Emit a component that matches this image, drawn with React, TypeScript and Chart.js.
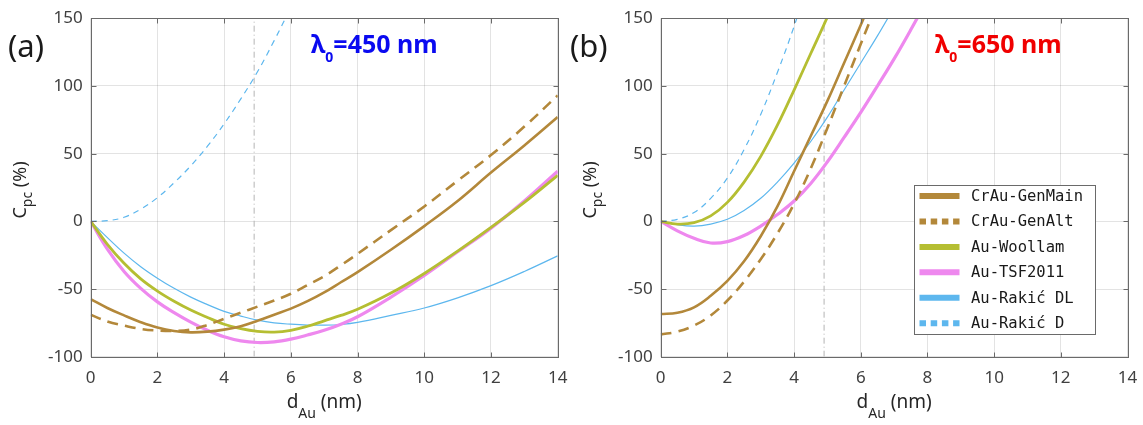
import React, { useEffect, useRef } from "react";
import { Chart, registerables } from "chart.js";
Chart.register(...registerables);

// ---------- data (left panel, λ0 = 450 nm) ----------
const xLeft = [0, 0.5, 1, 1.5, 2, 2.5, 3, 3.5, 4, 4.5, 5, 5.5, 6, 6.5, 7, 7.5, 8, 9, 10, 11, 12, 13, 14];
const genMainLeft = [-57.5, -64, -69.5, -74.5, -78.5, -81, -82, -81.5, -80, -77.5, -73.5, -69, -64.5, -59, -52.5, -45, -37.5, -21, -3.5, 15, 36, 56, 77];
const genAltLeft = [-69, -74, -77, -79.5, -80.7, -81, -80, -76.5, -72, -67.5, -63, -58.5, -53.5, -47, -40.5, -32.5, -24, -6.5, 11, 30, 49, 70, 93];
const woollamLeft = [0, -17, -31, -42.5, -51.5, -59, -65.5, -71, -76, -79.3, -81.3, -81.8, -80.5, -77.5, -73.5, -69.5, -65, -53, -38.5, -22, -4.5, 14, 34];
const tsfLeft = [0, -20.5, -37, -49.5, -59.5, -67.5, -74.5, -80.5, -85.3, -88.3, -89.5, -89, -87, -84, -80.5, -76, -70.5, -56, -40, -22.5, -5, 15, 37];
const rakicDLLeft = [0, -12, -23.5, -33.5, -42, -49.5, -56, -61.5, -66.5, -70, -73, -75, -76, -76.6, -76.7, -76.2, -74.7, -69.5, -64, -56.5, -47.5, -37, -25.5];
const xRakicDLeft = [0, 0.5, 1, 1.5, 2, 2.5, 3, 3.5, 4, 4.5, 5, 5.5, 6];
const rakicDLeft = [0, 0.5, 3, 9, 17.5, 28.5, 41, 55.5, 72, 90.5, 110.5, 133.5, 158];

// ---------- data (right panel, λ0 = 650 nm) ----------
const xGenMainRight = [0, 0.5, 1, 1.5, 2, 2.5, 3, 3.5, 4, 4.5, 5, 5.5, 6, 6.5];
const genMainRight = [-68.5, -67.5, -63.5, -55, -44, -29.5, -11, 11, 37, 63, 89, 117, 145, 174];
const xGenAltRight = [0, 0.5, 1, 1.5, 2, 2.5, 3, 3.5, 4, 4.5, 5, 5.5, 6, 6.5];
const genAltRight = [-83.5, -81.5, -77, -69.5, -58.5, -44.5, -28, -9, 13, 39, 69, 100, 131, 162];
const xWoollamRight = [0, 0.5, 1, 1.5, 2, 2.5, 3, 3.5, 4, 4.5, 5, 5.5];
const woollamRight = [0, -2, -1, 4, 14, 29, 48, 71, 97, 124, 151, 180];
const xTsfRight = [0, 0.5, 1, 1.5, 2, 2.5, 3, 3.5, 4, 4.5, 5, 5.5, 6, 6.5, 7, 7.5, 8];
const tsfRight = [0, -7, -12.5, -16, -15, -10.5, -3.5, 5, 15, 28, 44, 62, 80.5, 100, 120, 141.5, 164];
const xRakicDLRight = [0, 0.5, 1, 1.5, 2, 2.5, 3, 3.5, 4, 4.5, 5, 5.5, 6, 6.5, 7];
const rakicDLRight = [0, -2.5, -3.5, -2, 1.5, 8, 17, 29, 43, 59, 77, 97, 117, 137, 158];
const xRakicDRight = [0, 0.5, 1, 1.5, 2, 2.5, 3, 3.5, 4, 4.5];
const rakicDRight = [0, 1.5, 6.5, 17, 32, 53, 79, 110, 144, 182];

const referenceThickness = 4.9;
const xTicks = { min: 0, max: 14, step: 2 };
const yTicks = { min: -100, max: 150, step: 50 };
const seriesLabels = ["CrAu-GenMain", "CrAu-GenAlt", "Au-Woollam", "Au-TSF2011", "Au-Rakić DL", "Au-Rakić D"];

// ---------- styles ----------
const BROWN = "#B3883A";
const OLIVE = "#B5BE32";
const PINK = "#EE88EE";
const BLUE = "#5DB7EE";
const styles = [
  { color: BROWN, width: 2.6, dash: [] as number[], legendDash: [] as number[] },
  { color: BROWN, width: 2.6, dash: [11, 7], legendDash: [6.5, 4.7] },
  { color: OLIVE, width: 2.8, dash: [], legendDash: [] },
  { color: PINK, width: 3.2, dash: [], legendDash: [] },
  { color: BLUE, width: 1.2, dash: [], legendDash: [] },
  { color: BLUE, width: 1.2, dash: [6, 5], legendDash: [6.5, 4.7] },
];

const TICK_FONT = "'Noto Sans', sans-serif";

function pts(xs: number[], ys: number[]) {
  return xs.map((x, i) => ({ x, y: ys[i] }));
}

function buildDatasets(data: { x: number[]; y: number[] }[]) {
  const ds: any[] = data.map((d, i) => ({
    label: seriesLabels[i],
    data: pts(d.x, d.y),
    borderColor: styles[i].color,
    borderWidth: styles[i].width,
    borderDash: styles[i].dash,
    borderCapStyle: "butt",
    borderJoinStyle: "round",
    pointRadius: 0,
    fill: false,
    tension: 0.4,
    clip: 0,
  }));
  ds.push({
    label: "ref",
    data: [
      { x: referenceThickness, y: yTicks.min },
      { x: referenceThickness, y: yTicks.max },
    ],
    borderColor: "#b4b4b4",
    borderWidth: 1,
    borderDash: [6, 3, 1, 3],
    pointRadius: 0,
    fill: false,
    tension: 0,
    clip: 0,
  });
  return ds;
}

function drawSubText(
  ctx: CanvasRenderingContext2D,
  x: number,
  y: number,
  parts: { t: string; sub?: boolean }[],
  font: string,
  subFont: string,
  subOffset: number,
  align: "left" | "center"
) {
  ctx.textBaseline = "alphabetic";
  ctx.textAlign = "left";
  let total = 0;
  const widths = parts.map((p) => {
    ctx.font = p.sub ? subFont : font;
    const w = ctx.measureText(p.t).width;
    total += w;
    return w;
  });
  let cx = align === "center" ? x - total / 2 : x;
  parts.forEach((p, i) => {
    ctx.font = p.sub ? subFont : font;
    ctx.fillText(p.t, cx, p.sub ? y + subOffset : y);
    cx += widths[i];
  });
}

function decorPlugin(panel: "a" | "b") {
  return {
    id: "decor" + panel,
    afterDraw(chart: any) {
      const ctx: CanvasRenderingContext2D = chart.ctx;
      const a = chart.chartArea;
      const xs = chart.scales.x;
      const ys = chart.scales.y;
      ctx.save();
      // frame
      const L = Math.round(a.left) + 0.5;
      const R = Math.round(a.right) + 0.5;
      const T = Math.round(a.top) + 0.5;
      const B = Math.round(a.bottom) + 0.5;
      ctx.strokeStyle = "#6a6a6a";
      ctx.lineWidth = 1;
      ctx.setLineDash([]);
      ctx.strokeRect(L, T, R - L, B - T);
      // inner ticks
      ctx.beginPath();
      xs.ticks.forEach((t: any) => {
        const px = Math.round(xs.getPixelForValue(t.value)) + 0.5;
        ctx.moveTo(px, T);
        ctx.lineTo(px, T + 5);
        ctx.moveTo(px, B);
        ctx.lineTo(px, B - 5);
      });
      ys.ticks.forEach((t: any) => {
        const py = Math.round(ys.getPixelForValue(t.value)) + 0.5;
        ctx.moveTo(L, py);
        ctx.lineTo(L + 5, py);
        ctx.moveTo(R, py);
        ctx.lineTo(R - 5, py);
      });
      ctx.stroke();

      // axis titles
      ctx.fillStyle = "#262626";
      const cxTitle = (a.left + a.right) / 2;
      drawSubText(
        ctx,
        cxTitle,
        408,
        [{ t: "d" }, { t: "Au", sub: true }, { t: " (nm)" }],
        "19px 'Noto Sans', sans-serif",
        "14px 'Noto Sans', sans-serif",
        10,
        "center"
      );
      ctx.save();
      ctx.translate(panel === "a" ? 26 : 25, 190);
      ctx.rotate(-Math.PI / 2);
      drawSubText(
        ctx,
        0,
        0,
        [{ t: "C" }, { t: "pc", sub: true }, { t: " (%)" }],
        "18px 'Noto Sans', sans-serif",
        "14px 'Noto Sans', sans-serif",
        6,
        "center"
      );
      ctx.restore();

      // panel label
      ctx.fillStyle = "#1a1a1a";
      ctx.font = "31px 'Noto Sans', sans-serif";
      ctx.textAlign = "left";
      ctx.textBaseline = "alphabetic";
      ctx.fillText(panel === "a" ? "(a)" : "(b)", panel === "a" ? 8 : -1, 57);

      // wavelength label
      ctx.fillStyle = panel === "a" ? "#0a0af0" : "#f00000";
      drawSubText(
        ctx,
        panel === "a" ? 311 : 364,
        53,
        [{ t: "λ" }, { t: "0", sub: true }, { t: panel === "a" ? "=450 nm" : "=650 nm" }],
        "bold 25px 'Noto Sans', sans-serif",
        "bold 14px 'Noto Sans', sans-serif",
        9,
        "left"
      );

      // legend (right panel only)
      if (panel === "b") {
        const bx = 343.5, by = 185.5, bw = 181, bh = 149;
        ctx.fillStyle = "#ffffff";
        ctx.fillRect(bx, by, bw, bh);
        ctx.strokeStyle = "#6a6a6a";
        ctx.lineWidth = 1;
        ctx.setLineDash([]);
        ctx.strokeRect(bx, by, bw, bh);
        seriesLabels.forEach((lab, i) => {
          const yy = 196 + i * 25.45;
          ctx.strokeStyle = styles[i].color;
          ctx.lineWidth = 6;
          ctx.lineCap = "butt";
          ctx.setLineDash(styles[i].legendDash);
          ctx.beginPath();
          ctx.moveTo(348.5, yy);
          ctx.lineTo(388.5, yy);
          ctx.stroke();
          ctx.setLineDash([]);
          ctx.fillStyle = "#1a1a1a";
          ctx.font = "15.5px 'DejaVu Sans Mono', monospace";
          ctx.textAlign = "left";
          ctx.textBaseline = "middle";
          ctx.fillText(lab, 400, yy + 1);
        });
      }
      ctx.restore();
    },
  };
}

function makeConfig(panel: "a" | "b", datasets: any[], padRight: number, yWidth: number) {
  return {
    type: "line" as const,
    data: { datasets },
    options: {
      animation: false as const,
      responsive: false,
      maintainAspectRatio: false,
      layout: { padding: { left: 0, right: padRight, top: 18.3, bottom: 0 } },
      plugins: { legend: { display: false }, tooltip: { enabled: false } },
      scales: {
        x: {
          type: "linear" as const,
          min: xTicks.min,
          max: xTicks.max,
          ticks: { stepSize: xTicks.step, color: "#404040", font: { family: TICK_FONT, size: 17 }, padding: 11, maxRotation: 0 },
          grid: { color: "rgba(0,0,0,0.11)", drawTicks: false },
          border: { display: false },
          afterFit: (s: any) => {
            s.height = 68.3;
            s.paddingLeft = 0;
            s.paddingRight = 0;
          },
        },
        y: {
          type: "linear" as const,
          min: yTicks.min,
          max: yTicks.max,
          ticks: { stepSize: yTicks.step, color: "#404040", font: { family: TICK_FONT, size: 17 }, padding: 8 },
          grid: { color: "rgba(0,0,0,0.11)", drawTicks: false },
          border: { display: false },
          afterFit: (s: any) => {
            s.width = yWidth;
            s.paddingTop = 0;
            s.paddingBottom = 0;
          },
        },
      },
    },
    plugins: [decorPlugin(panel)],
  };
}

export default function App() {
  const leftRef = useRef<HTMLCanvasElement>(null);
  const rightRef = useRef<HTMLCanvasElement>(null);

  useEffect(() => {
    const leftData = [
      { x: xLeft, y: genMainLeft },
      { x: xLeft, y: genAltLeft },
      { x: xLeft, y: woollamLeft },
      { x: xLeft, y: tsfLeft },
      { x: xLeft, y: rakicDLLeft },
      { x: xRakicDLeft, y: rakicDLeft },
    ];
    const rightData = [
      { x: xGenMainRight, y: genMainRight },
      { x: xGenAltRight, y: genAltRight },
      { x: xWoollamRight, y: woollamRight },
      { x: xTsfRight, y: tsfRight },
      { x: xRakicDLRight, y: rakicDLRight },
      { x: xRakicDRight, y: rakicDRight },
    ];
    const c1 = new Chart(leftRef.current!, makeConfig("a", buildDatasets(leftData), 13.3, 90.7) as any);
    const c2 = new Chart(rightRef.current!, makeConfig("b", buildDatasets(rightData), 15.5, 89.7) as any);
    return () => {
      c1.destroy();
      c2.destroy();
    };
  }, []);

  return (
    <div style={{ position: "absolute", left: 0, top: 0, width: 1143, height: 425, background: "#fff" }}>
      <canvas ref={leftRef} width={571} height={425} style={{ position: "absolute", left: 0, top: 0, width: 571, height: 425 }} />
      <canvas ref={rightRef} width={572} height={425} style={{ position: "absolute", left: 571, top: 0, width: 572, height: 425 }} />
    </div>
  );
}
